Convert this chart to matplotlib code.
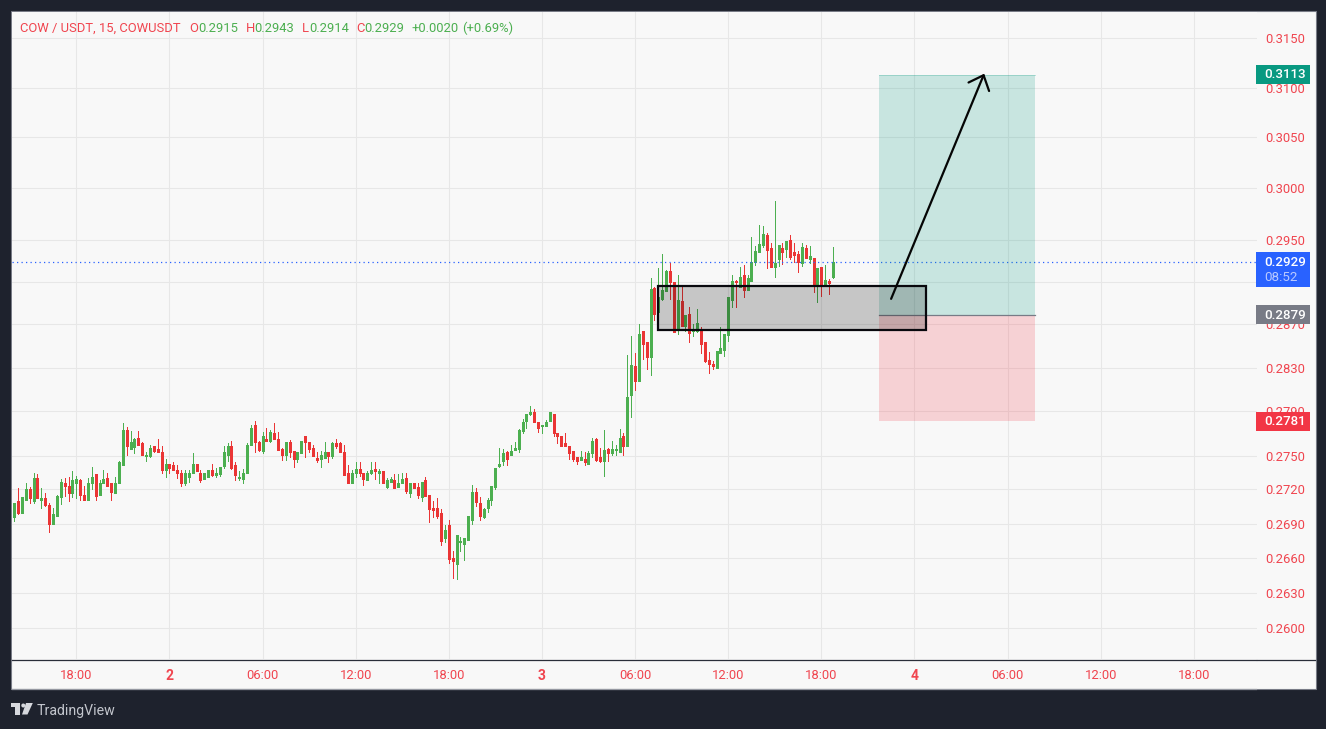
import numpy as np
import matplotlib
matplotlib.use("Agg")
import matplotlib.pyplot as plt
from matplotlib.patches import Rectangle, Polygon, Circle
from matplotlib.ticker import NullLocator, NullFormatter

plt.rcParams['font.family'] = ['Roboto', 'DejaVu Sans']

# OHLC in units of 0.0001 USDT, 15 minute bars
opens = [2696,2710,2699,2711,2720,2710,2730,2711,2712,2706,
2690,2697,2713,2726,2723,2717,2726,2728,2715,2711,
2726,2734,2715,2726,2730,2726,2717,2726,2742,2773,
2756,2758,2766,2761,2750,2750,2759,2756,2753,2737,
2743,2742,2737,2735,2726,2731,2735,2743,2735,2729,
2731,2737,2733,2734,2741,2751,2759,2742,2730,2729,
2735,2760,2778,2762,2754,2765,2763,2770,2765,2756,
2751,2762,2754,2747,2752,2768,2762,2757,2748,2747,
2748,2753,2750,2761,2761,2753,2735,2726,2735,2738,
2735,2728,2735,2738,2735,2736,2722,2727,2728,2722,
2726,2730,2717,2726,2722,2713,2728,2715,2704,2704,
2699,2677,2689,2660,2655,2674,2672,2676,2693,2718,
2708,2696,2704,2711,2722,2741,2745,2753,2751,2755,
2756,2772,2781,2788,2789,2780,2777,2777,2781,2788,
2770,2768,2761,2759,2754,2749,2746,2747,2743,2752,
2765,2749,2745,2756,2752,2755,2753,2768,2759,2805,
2831,2818,2864,2854,2840,2904,2882,2894,2901,2920,
2910,2865,2892,2869,2880,2864,2864,2866,2854,2837,
2833,2830,2843,2846,2860,2893,2911,2905,2917,2902,
2911,2929,2938,2945,2955,2942,2924,2932,2942,2941,
2950,2938,2937,2928,2942,2932,2933,2906,2924,2907,2911,2915]
highs = [2708,2721,2713,2726,2722,2735,2734,2721,2717,2708,
2704,2715,2729,2730,2731,2736,2732,2729,2723,2730,
2740,2734,2728,2737,2735,2726,2731,2745,2779,2776,
2772,2766,2772,2762,2753,2760,2759,2765,2759,2747,
2743,2744,2742,2737,2737,2737,2752,2743,2737,2735,
2737,2743,2739,2740,2759,2761,2763,2744,2736,2738,
2761,2778,2781,2763,2771,2775,2773,2779,2771,2757,
2762,2764,2754,2753,2763,2768,2762,2760,2753,2754,
2762,2753,2762,2765,2762,2760,2742,2737,2744,2744,
2735,2736,2744,2744,2738,2736,2730,2731,2734,2734,
2735,2735,2726,2726,2726,2727,2731,2715,2710,2712,
2703,2689,2693,2666,2680,2678,2677,2697,2724,2721,
2713,2704,2712,2723,2739,2757,2756,2754,2760,2762,
2774,2783,2788,2795,2792,2780,2778,2782,2789,2788,
2770,2768,2770,2759,2754,2749,2754,2753,2754,2766,
2766,2757,2773,2757,2763,2760,2774,2770,2842,2859,
2843,2870,2864,2854,2914,2905,2923,2937,2921,2928,
2910,2917,2906,2879,2886,2870,2884,2868,2854,2844,
2836,2845,2868,2861,2896,2917,2912,2924,2926,2917,
2953,2944,2964,2963,2957,2947,2988,2945,2947,2949,
2955,2947,2939,2947,2945,2944,2933,2923,2924,2926,2913,2943]
lows = [2692,2698,2699,2711,2708,2708,2712,2704,2705,2683,
2690,2697,2707,2714,2710,2713,2712,2711,2711,2711,
2720,2711,2715,2726,2723,2711,2717,2726,2742,2751,
2756,2752,2760,2751,2745,2749,2753,2753,2735,2731,
2735,2737,2730,2723,2724,2727,2735,2736,2727,2729,
2731,2732,2731,2732,2739,2745,2738,2728,2728,2726,
2735,2760,2753,2754,2752,2763,2762,2765,2755,2746,
2746,2749,2740,2744,2752,2749,2753,2750,2744,2740,
2748,2744,2748,2757,2753,2733,2726,2726,2731,2732,
2724,2728,2734,2729,2726,2726,2721,2727,2721,2722,
2726,2717,2713,2721,2712,2710,2714,2691,2696,2695,
2671,2674,2656,2643,2642,2666,2658,2676,2690,2705,
2693,2695,2700,2706,2720,2740,2742,2742,2751,2755,
2753,2770,2775,2787,2780,2771,2770,2777,2781,2768,
2761,2759,2759,2747,2745,2743,2746,2742,2743,2749,
2745,2744,2732,2745,2751,2751,2753,2751,2759,2785,
2809,2818,2838,2829,2823,2874,2872,2893,2901,2894,
2863,2861,2869,2864,2854,2859,2863,2843,2835,2825,
2829,2830,2843,2841,2855,2886,2886,2905,2896,2902,
2911,2926,2938,2943,2923,2924,2915,2925,2927,2934,
2932,2929,2919,2925,2933,2928,2900,2891,2897,2907,2899,2914]
closes = [2708,2699,2713,2720,2712,2730,2712,2712,2706,2690,
2698,2714,2727,2723,2717,2728,2729,2715,2711,2726,
2731,2714,2726,2729,2723,2718,2726,2744,2773,2759,
2762,2765,2760,2751,2751,2757,2754,2753,2737,2743,
2739,2737,2735,2726,2735,2735,2743,2736,2728,2735,
2737,2733,2735,2740,2753,2759,2739,2733,2731,2735,
2760,2775,2762,2755,2768,2763,2771,2765,2755,2751,
2762,2753,2747,2753,2763,2762,2756,2750,2746,2751,
2753,2750,2761,2759,2753,2733,2726,2735,2738,2735,
2729,2735,2737,2736,2736,2726,2728,2729,2721,2726,
2729,2719,2726,2721,2715,2727,2714,2703,2702,2697,
2675,2684,2659,2657,2680,2675,2677,2697,2718,2709,
2697,2703,2711,2723,2739,2743,2752,2747,2754,2757,
2773,2780,2788,2789,2780,2775,2778,2780,2789,2770,
2768,2759,2759,2752,2747,2745,2749,2744,2752,2763,
2746,2745,2755,2752,2756,2756,2766,2759,2803,2832,
2818,2861,2852,2840,2903,2880,2896,2902,2920,2910,
2863,2893,2869,2879,2862,2865,2871,2852,2836,2833,
2831,2845,2848,2861,2896,2911,2910,2915,2902,2914,
2929,2939,2946,2956,2940,2924,2928,2945,2938,2949,
2934,2936,2929,2943,2933,2935,2906,2923,2906,2912,2909,2929]

price_ticks = [0.3150,0.3100,0.3050,0.3000,0.2950,0.2910,0.2870,0.2830,0.2790,
               0.2750,0.2720,0.2690,0.2660,0.2630,0.2600]
time_tick_bars = [16,40,64,88,112,136,160,184,208,232,256,280,304]
time_tick_labels = ['18:00','2','06:00','12:00','18:00','3','06:00','12:00','18:00','4','06:00','12:00','18:00']

last_price = 0.2929
entry_price = 0.2879
target_price = 0.3113
stop_price = 0.2781
position_bars = (222.9, 263.1)
zone_bars = (165.9, 235.0)
zone_prices = (0.2865, 0.2906)
arrow_from = (226.0, 0.2894)
arrow_to = (250.0, 0.3114)

GREEN, RED = '#4caf50', '#ea3535'
DARK = '#1e222d'
PANE = '#f8f8f8'
TXT_RED = '#f0454f'

W, H = 1326, 729
fig = plt.figure(figsize=(W/100, H/100), dpi=100, facecolor=DARK)

bg = fig.add_axes([0, 0, 1, 1], zorder=0)
bg.set_xlim(0, W); bg.set_ylim(H, 0); bg.axis('off')
bg.add_patch(Rectangle((11, 11), 1304.5, 678, fc=PANE, ec='#787b86', lw=0.8))

ax = fig.add_axes([12/W, (H-659)/H, (1257-12)/W, (659-12)/H], zorder=1, facecolor=PANE)
ax.set_yscale('log')

O, Hi, Lo, C = [np.array(a)/10000 for a in (opens, highs, lows, closes)]
x = np.arange(len(O))
up = C >= O
cols = np.where(up, GREEN, RED)
ax.vlines(x, Lo, Hi, colors=cols, lw=0.72, zorder=2, antialiased=False, capstyle='butt')
body_lo = np.minimum(O, C)
body_hi = np.maximum(np.maximum(O, C), body_lo + 0.0001)
ax.vlines(x, body_lo, body_hi, colors=cols, lw=2.16, zorder=2.1, antialiased=False, capstyle='butt')

ax.set_xlim(-0.57, 320.3)
ax.set_ylim(0.25740, 0.31771)

ax.yaxis.set_minor_locator(NullLocator())
ax.yaxis.set_minor_formatter(NullFormatter())
ax.yaxis.tick_right()
ax.set_yticks(price_ticks)
ax.set_yticklabels([f'{p:.4f}' for p in price_ticks])
ax.set_xticks(time_tick_bars)
ax.set_xticklabels(time_tick_labels)
ax.tick_params(axis='y', length=0, pad=6, labelsize=9.4, labelcolor=TXT_RED)
ax.tick_params(axis='x', length=0, pad=7, labelsize=9.4, labelcolor=TXT_RED)
for lab in ax.get_xticklabels():
    if len(lab.get_text()) == 1:
        lab.set_fontweight('bold')
        lab.set_fontsize(10)
ax.set_axisbelow(True)
ax.grid(True, color='#e7e7e7', lw=0.8)
for s in ax.spines.values():
    s.set_visible(False)

ax.axhline(last_price, color='#2962ff', lw=0.9, ls=(0, (1, 2.6)), zorder=2.5)

x0, x1 = position_bars
ax.add_patch(Rectangle((x0, entry_price), x1-x0, target_price-entry_price,
                       fc='#089981', alpha=0.2, lw=0, zorder=3))
ax.add_patch(Rectangle((x0, stop_price), x1-x0, entry_price-stop_price,
                       fc='#f23645', alpha=0.2, lw=0, zorder=3))
ax.plot([x0, x1], [entry_price, entry_price], color='#787b86', lw=0.9, zorder=3.1)
ax.plot([x0, x1], [target_price, target_price], color='#089981', lw=0.7, alpha=0.25, zorder=3.1)

zx0, zx1 = zone_bars
ax.add_patch(Rectangle((zx0, zone_prices[0]), zx1-zx0, zone_prices[1]-zone_prices[0],
                       fc=(0, 0, 0, 0.2), ec=(0.03, 0.03, 0.05, 1), lw=1.6, zorder=4))
ax.annotate('', xy=arrow_to, xytext=arrow_from, zorder=5,
            arrowprops=dict(arrowstyle='->,head_length=0.9,head_width=0.8', color='#050505',
                            lw=1.6, shrinkA=0, shrinkB=0, mutation_scale=10))

top = fig.add_axes([0, 0, 1, 1], zorder=2)
top.set_xlim(0, W); top.set_ylim(H, 0); top.axis('off'); top.patch.set_alpha(0)

def py(price):
    return H - ax.transData.transform((0, price))[1]

def tag(price, color, above=9.5, below=9.5):
    y = py(price)
    top.add_patch(Rectangle((1256, y-above), 54, above+below, fc=color, lw=0))
    top.text(1264.5, y+0.3, f'{price:.4f}', color='white', fontsize=9.6, fontweight='medium',
             va='center', ha='left')

tag(target_price, '#089981')
tag(entry_price, '#787b86')
tag(stop_price, '#f23645')
tag(last_price, '#2962ff', above=9.5, below=25)
top.text(1264.5, py(last_price)+15.5, '08:52', color='#b9c9ff', fontsize=9.6, va='center', ha='left')

# separator and borders
top.plot([12, 1255.5], [659.5, 659.5], color='#2a2e39', lw=0.9)
top.plot([1256.8, 1315], [659.5, 659.5], color='#2a2e39', lw=0.9)
top.plot([12, 1256], [689.3, 689.3], color='#9598a1', lw=0.9)

# legend row
legend_row = [(20, 'COW / USDT, 15, COWUSDT', TXT_RED), (189.5, 'O', TXT_RED), (198.3, '0.2915', GREEN),
              (246, 'H', TXT_RED), (254.4, '0.2943', GREEN), (302, 'L', TXT_RED), (309.2, '0.2914', GREEN),
              (356, 'C', TXT_RED), (364.5, '0.2929', GREEN), (411.5, '+0.0020', GREEN), (462.5, '(+0.69%)', GREEN)]
for lx, s, c in legend_row:
    top.text(lx, 28, s, color=c, fontsize=9.4, va='center', ha='left')

# TradingView footer
logo = '#d6d8dd'
top.add_patch(Polygon([(11, 703), (20, 703), (20, 714.5), (15, 714.5), (15, 707), (11, 707)], fc=logo, lw=0))
top.add_patch(Circle((23.3, 705.5), 2.0, fc=logo, lw=0))
top.add_patch(Polygon([(26, 703), (32.8, 703), (27.5, 714.5), (22, 714.5)], fc=logo, lw=0))
top.text(37, 710.5, 'TradingView', color='#c3c6cd', fontsize=10.2, va='center', ha='left')

fig.savefig('out.png', dpi=100, facecolor=fig.get_facecolor())
